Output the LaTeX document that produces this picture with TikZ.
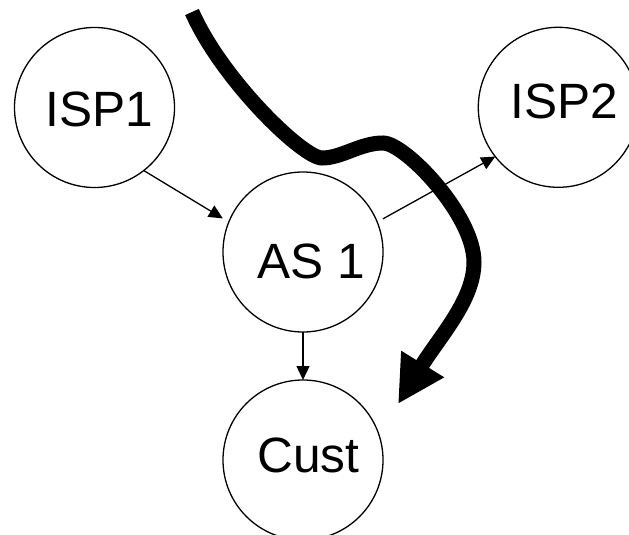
\documentclass[tikz,border=0pt]{standalone}
\usepackage{fontspec}
\setmainfont{Liberation Sans}
\usetikzlibrary{arrows.meta}
\begin{document}
\begin{tikzpicture}[x=1pt,y=-1pt,
  circ/.style={circle,draw,line width=1.3pt,minimum size=160pt,inner sep=0pt,outer sep=0pt},
  lbl/.style={inner sep=0pt,anchor=base,font=\fontsize{49.6pt}{52pt}\selectfont},
  conn/.style={line width=1.3pt,-{Triangle[length=14pt,width=13pt]}},
  bigarrow/.style={line width=15pt,-{Triangle[length=47pt,width=47pt]}}]
\useasboundingbox (0,0) rectangle (629,535);
\node[circ] (ISP1) at (94.5,107.5) {};
\node[circ] (ISP2) at (558.3,107.3) {};
\node[circ] (AS1) at (303,252) {};
\node[circ] (Cust) at (303,460) {};
\node[lbl] (tISP1) at (99.5,126) {ISP1};
\node[lbl] (tISP2) at (564.5,118) {ISP2};
\node[lbl] (tAS1) at (311.5,278) {AS 1};
\node[lbl] (tCust) at (308.5,472) {Cust};
\draw[conn,shorten >=7pt] (ISP1.-52.8) -- (AS1.158.5);
\draw[conn,shorten <=6.5pt] (AS1.22.4) -- (ISP2.218.3);
\draw[conn] (AS1.south) -- (Cust.north);
\coordinate (p0) at (192,12);
\coordinate (p1) at (322,158);
\coordinate (p2) at (383,143);
\coordinate (p3) at (474,262);
\coordinate (p4) at (398,404);
\draw[bigarrow] (p0) .. controls (222,80) and (303,158) .. (p1)
  .. controls (342,158) and (360,143) .. (p2)
  .. controls (405,143) and (474,215) .. (p3)
  .. controls (474,300) and (440,336) .. (p4);
\end{tikzpicture}
\end{document}
